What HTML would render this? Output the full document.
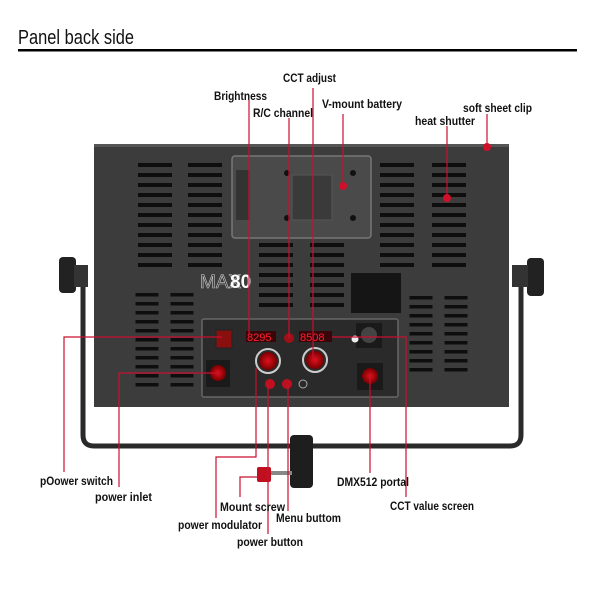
<!DOCTYPE html>
<html><head><meta charset="utf-8"><style>
html,body{margin:0;padding:0;background:#fff;}
svg{display:block}
text{font-family:"Liberation Sans",sans-serif;font-weight:bold;fill:#111;}
</style></head><body>
<svg width="600" height="600" viewBox="0 0 600 600" xmlns="http://www.w3.org/2000/svg">
<defs>
<radialGradient id="rk" cx="50%" cy="50%" r="50%"><stop offset="0" stop-color="#e01020"/><stop offset="1" stop-color="#700"/></radialGradient>
</defs>
<text x="18" y="44" textLength="116" lengthAdjust="spacingAndGlyphs" style="font-size:20px;font-weight:normal">Panel back side</text>
<rect x="18" y="49" width="559" height="2.5" fill="#000"/>

<!-- stand -->
<path d="M83 275 L83 435 Q83 446 94 446 L510 446 Q521 446 521 435 L521 275" fill="none" stroke="#2a2a2a" stroke-width="5"/>
<rect x="59" y="257" width="17" height="36" rx="4" fill="#222"/>
<rect x="74" y="265" width="14" height="22" fill="#333"/>
<rect x="527" y="258" width="17" height="38" rx="4" fill="#222"/>
<rect x="512" y="265" width="16" height="22" fill="#333"/>

<!-- panel -->
<rect x="94" y="144" width="415" height="263" fill="#3c3c3c"/>
<rect x="94" y="144" width="415" height="3" fill="#555"/>
<!-- vents -->
<g fill="none" stroke="#0e0e0e" stroke-dasharray="4 6">
<line x1="155" y1="163" x2="155" y2="270" stroke-width="34"/>
<line x1="205" y1="163" x2="205" y2="270" stroke-width="34"/>
<line x1="397" y1="163" x2="397" y2="270" stroke-width="34"/>
<line x1="449" y1="163" x2="449" y2="270" stroke-width="34"/>
<line x1="276" y1="243" x2="276" y2="310" stroke-width="34"/>
<line x1="327" y1="243" x2="327" y2="310" stroke-width="34"/>
</g>
<g fill="none" stroke="#0e0e0e" stroke-dasharray="3.5 5.5">
<line x1="147" y1="293" x2="147" y2="388" stroke-width="23"/>
<line x1="182" y1="293" x2="182" y2="388" stroke-width="23"/>
<line x1="421" y1="296" x2="421" y2="372" stroke-width="23"/>
<line x1="456" y1="296" x2="456" y2="372" stroke-width="23"/>
</g>
<!-- battery plate -->
<rect x="232" y="156" width="139" height="82" rx="3" fill="#4a4a4a" stroke="#777" stroke-width="1.5"/>
<rect x="236" y="170" width="14" height="50" fill="#333"/>
<rect x="292" y="175" width="40" height="45" fill="#3a3a3a" stroke="#555"/>
<circle cx="287" cy="173" r="3" fill="#111"/><circle cx="353" cy="173" r="3" fill="#111"/>
<circle cx="287" cy="218" r="3" fill="#111"/><circle cx="353" cy="218" r="3" fill="#111"/>
<!-- MAX80 -->
<text x="200" y="288" style="font-size:19px;fill:none;stroke:#ccc;stroke-width:0.6;font-weight:normal">MAX</text>
<text x="230" y="288" style="font-size:19px;fill:#fff">80</text>
<rect x="351" y="273" width="50" height="40" fill="#151515"/>
<!-- control box -->
<rect x="202" y="319" width="196" height="78" rx="2" fill="#2a2a2a" stroke="#666" stroke-width="1.5"/>
<rect x="216" y="330" width="16" height="18" fill="#8a1010" stroke="#222"/>
<rect x="246" y="331" width="30" height="11" fill="#3a0508"/>
<text x="247" y="341" style="font-size:11px;fill:#ff2030;font-weight:normal">8295</text>
<rect x="299" y="331" width="33" height="11" fill="#3a0508"/>
<text x="300" y="341" style="font-size:11px;fill:#ff2030;font-weight:normal">8508</text>
<circle cx="289" cy="338" r="5" fill="#a01018"/>
<circle cx="268" cy="361" r="12" fill="none" stroke="#ccc" stroke-width="2"/>
<circle cx="268" cy="361" r="9" fill="url(#rk)"/>
<circle cx="315" cy="360" r="12" fill="none" stroke="#ccc" stroke-width="2"/>
<circle cx="315" cy="360" r="9" fill="url(#rk)"/>
<rect x="206" y="360" width="24" height="27" fill="#1a1a1a"/>
<circle cx="218" cy="373" r="8" fill="url(#rk)"/>
<circle cx="270" cy="384" r="5" fill="#c01020"/>
<circle cx="287" cy="384" r="5" fill="#c01020"/>
<circle cx="303" cy="384" r="4" fill="none" stroke="#aaa"/>
<rect x="356" y="323" width="26" height="25" fill="#1a1a1a"/>
<circle cx="369" cy="335" r="8" fill="#444"/>
<circle cx="355" cy="339" r="3.5" fill="#eee"/>
<rect x="357" y="363" width="26" height="27" fill="#1a1a1a"/>
<circle cx="370" cy="376" r="8" fill="url(#rk)"/>
<!-- clamp -->
<rect x="290" y="435" width="23" height="53" rx="4" fill="#1e1e1e"/>
<rect x="270" y="471" width="22" height="4" fill="#888"/>
<rect x="257" y="467" width="14" height="15" rx="2" fill="#c01020"/>
<!-- red dots -->
<g fill="#d0102a"><circle cx="343" cy="186" r="4"/><circle cx="447" cy="198" r="4"/><circle cx="487" cy="147" r="4"/></g>

<!-- leader lines -->
<g stroke="#c8102e" stroke-width="1.2" fill="none">
<path d="M249 100 V335"/>
<path d="M289 118 V338"/>
<path d="M313 88 V360"/>
<path d="M343 114 V186"/>
<path d="M447 126 V198"/>
<path d="M487 114 V147"/>
<path d="M64 472 V337 H222"/>
<path d="M119 487 V373 H218"/>
<path d="M240 497 V477 H258"/>
<path d="M216 518 V457 H256 V368"/>
<path d="M268 534 V384"/>
<path d="M288 511 V384"/>
<path d="M370 473 V376"/>
<path d="M406 497 V337 H332"/>
</g>

<!-- labels -->
<g style="font-size:12px">
<text x="283" y="82" textLength="53" lengthAdjust="spacingAndGlyphs">CCT adjust</text>
<text x="214" y="100" textLength="53" lengthAdjust="spacingAndGlyphs">Brightness</text>
<text x="253" y="117" textLength="60" lengthAdjust="spacingAndGlyphs">R/C channel</text>
<text x="322" y="108" textLength="80" lengthAdjust="spacingAndGlyphs">V-mount battery</text>
<text x="463" y="112" textLength="69" lengthAdjust="spacingAndGlyphs">soft sheet clip</text>
<text x="415" y="125" textLength="60" lengthAdjust="spacingAndGlyphs">heat shutter</text>
<text x="40" y="485" textLength="73" lengthAdjust="spacingAndGlyphs">pOower switch</text>
<text x="95" y="501" textLength="57" lengthAdjust="spacingAndGlyphs">power inlet</text>
<text x="220" y="511" textLength="65" lengthAdjust="spacingAndGlyphs">Mount screw</text>
<text x="276" y="522" textLength="65" lengthAdjust="spacingAndGlyphs">Menu buttom</text>
<text x="178" y="529" textLength="84" lengthAdjust="spacingAndGlyphs">power modulator</text>
<text x="237" y="546" textLength="66" lengthAdjust="spacingAndGlyphs">power button</text>
<text x="337" y="486" textLength="72" lengthAdjust="spacingAndGlyphs">DMX512 portal</text>
<text x="390" y="510" textLength="84" lengthAdjust="spacingAndGlyphs">CCT value screen</text>
</g>
</svg>
</body></html>
